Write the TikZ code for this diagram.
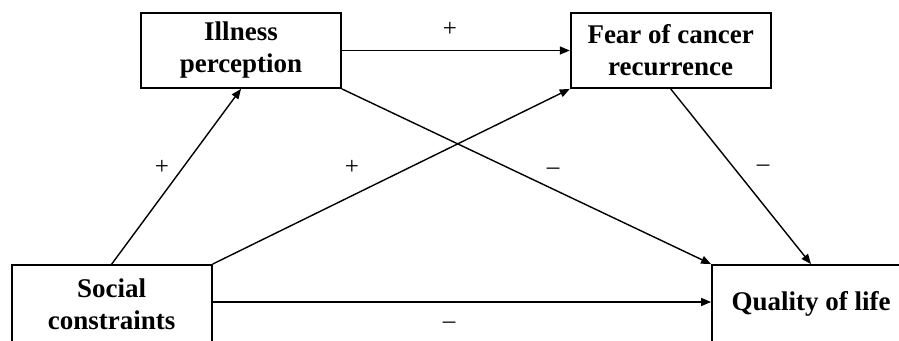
\documentclass[tikz,border=0pt]{standalone}
\usepackage{fontspec}
\setmainfont{Liberation Serif}
\usetikzlibrary{arrows.meta}
\begin{document}
\begin{tikzpicture}[x=1pt,y=-1pt,
  box/.style={draw, line width=1.8pt, align=center, font=\fontsize{27}{32}\selectfont\bfseries, inner sep=0pt},
  arr/.style={line width=1.4pt, -{Triangle[length=10pt,width=8pt]}},
  sign/.style={font=\fontsize{25}{28}\selectfont, inner sep=0pt}]
\useasboundingbox (0,0) rectangle (899,340);
\clip (0,0) rectangle (899,340);
\fill[white] (0,0) rectangle (899,340);
\node[box, minimum width=200pt, minimum height=75pt] (ip) at (241,50.5) {Illness\\perception};
\node[box, minimum width=200pt, minimum height=75pt] (fcr) at (670.7,50.5) {Fear of cancer\\recurrence};
\node[box, minimum width=200pt, minimum height=78pt] (sc) at (111.7,304) {Social\\constraints};
\node[box, minimum width=198pt, minimum height=78pt] (qol) at (811,304) {Quality of life};
\draw[arr] (ip.east) -- (fcr.west);
\draw[arr] (sc.north) -- (ip.south);
\draw[arr] (sc.north east) -- (fcr.south west);
\draw[arr] (ip.south east) -- (qol.north west);
\draw[arr] (fcr.south) -- (qol.north);
\draw[arr] ([yshift=2pt]sc.east) -- ([yshift=2pt]qol.west);
\node[sign] (s1) at (450,29) {+};
\node[sign] (s2) at (162,167) {+};
\node[sign] (s3) at (352,167) {+};
\node[sign] (s4) at (553,171) {--};
\node[sign] (s5) at (763,168) {--};
\node[sign] (s6) at (449,325) {--};
\end{tikzpicture}
\end{document}
